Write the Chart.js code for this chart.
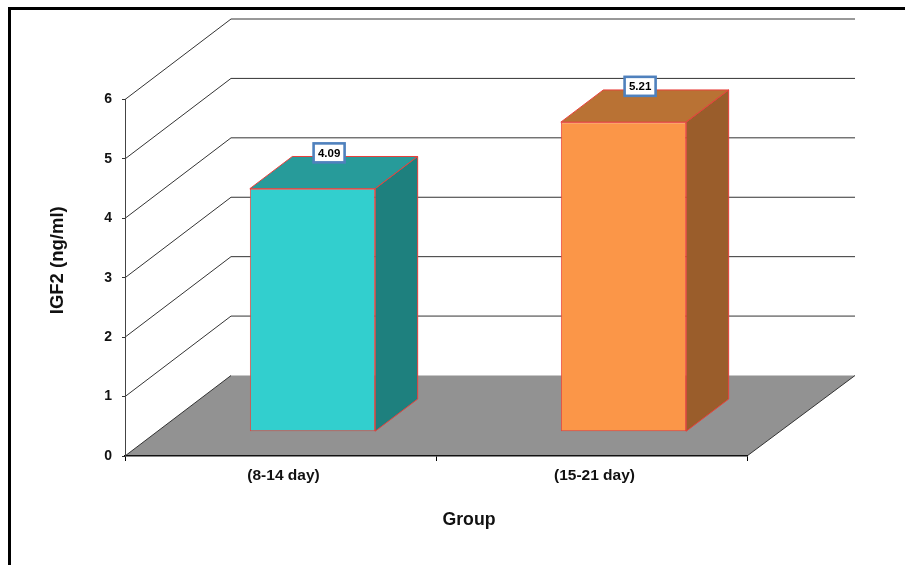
<!DOCTYPE html>
<html>
<head>
<meta charset="utf-8">
<style>html,body{margin:0;padding:0;background:#fff}canvas{display:block}</style>
<script src="https://cdn.jsdelivr.net/npm/chart.js@4"></script>
</head>
<body>
<canvas id="c" width="905" height="565"></canvas>
<script>
const categories = ['(8-14 day)', '(15-21 day)'];
const igf2Values = [4.09, 5.21];
const frontColors = ['#32CFCE', '#FB9648'];
const topColors = ['#279B9A', '#B97234'];
const sideColors = ['#1E807E', '#9A5D2B'];
const xAxisTitle = 'Group';
const yAxisTitle = 'IGF2 (ng/ml)';

const FONT = '"Liberation Sans", Arial, sans-serif';
const WALL = {dx: 106, dy: -80.5};
const BAR_SHIFT = {dx: 32, dy: -24.3};
const BAR_DEPTH = {dx: 42.5, dy: -32.2};
const EDGE = '#E8403C';

function poly(ctx, pts, fill, stroke) {
  ctx.beginPath();
  pts.forEach((p, i) => i ? ctx.lineTo(p[0], p[1]) : ctx.moveTo(p[0], p[1]));
  ctx.closePath();
  if (fill) { ctx.fillStyle = fill; ctx.fill(); }
  if (stroke) { ctx.strokeStyle = stroke; ctx.lineWidth = 1; ctx.stroke(); }
}

const stage3d = {
  id: 'stage3d',
  beforeDraw(chart) {
    const {ctx, chartArea: a, scales} = chart;
    const y0 = scales.y.getPixelForValue(0);
    ctx.save();
    // outer frame
    ctx.fillStyle = '#000';
    ctx.fillRect(8, 7, 897, 3);
    ctx.fillRect(8, 7, 3, 558);
    // grid lines on the two walls
    ctx.strokeStyle = '#333';
    ctx.lineWidth = 1;
    scales.y.ticks.forEach(t => {
      if (t.value === 0) return;
      const p = scales.y.getPixelForValue(t.value);
      ctx.beginPath();
      ctx.moveTo(a.left, p);
      ctx.lineTo(a.left + WALL.dx, p + WALL.dy);
      ctx.lineTo(a.right + WALL.dx + 2, p + WALL.dy);
      ctx.stroke();
    });
    // floor
    poly(ctx, [[a.left, y0], [a.left + WALL.dx, y0 + WALL.dy], [a.right + WALL.dx + 2, y0 + WALL.dy], [a.right, y0]], '#929292');
    ctx.strokeStyle = '#333';
    ctx.beginPath();
    ctx.moveTo(a.left, y0); ctx.lineTo(a.left + WALL.dx, y0 + WALL.dy);
    ctx.moveTo(a.right, y0); ctx.lineTo(a.right + WALL.dx + 2, y0 + WALL.dy);
    ctx.stroke();
    ctx.restore();
    // shift axis titles along their axes
    const wrap = (s, tx, ty) => {
      if (s._shifted) return;
      s._shifted = true;
      const orig = s.drawTitle;
      s.drawTitle = function () { ctx.save(); ctx.translate(tx, ty); orig.call(this); ctx.restore(); };
    };
    wrap(scales.x, 33, 0);
    wrap(scales.y, 0, -17.5);
  },
  beforeDatasetsDraw(chart) {
    const {ctx} = chart;
    ctx.save();
    ctx.translate(BAR_SHIFT.dx, BAR_SHIFT.dy);
    chart.getDatasetMeta(0).data.forEach((b, i) => {
      const l = b.x - b.width / 2, r = b.x + b.width / 2, t = b.y, bt = b.base;
      const d = BAR_DEPTH;
      poly(ctx, [[l, t], [l + d.dx, t + d.dy], [r + d.dx, t + d.dy], [r, t]], topColors[i], EDGE);
      poly(ctx, [[r, t], [r + d.dx, t + d.dy], [r + d.dx, bt + d.dy], [r, bt]], sideColors[i], EDGE);
    });
  },
  afterDatasetsDraw(chart) {
    const {ctx} = chart;
    ctx.restore();
    ctx.save();
    chart.getDatasetMeta(0).data.forEach((b, i) => {
      const cx = b.x + BAR_SHIFT.dx + 16.6, cy = b.y + BAR_SHIFT.dy - 35.8;
      const w = 31, h = 19;
      ctx.fillStyle = '#fff';
      ctx.strokeStyle = '#4F81BD';
      ctx.lineWidth = 2.6;
      ctx.fillRect(cx - w / 2, cy - h / 2, w, h);
      ctx.strokeRect(cx - w / 2, cy - h / 2, w, h);
      ctx.fillStyle = '#000';
      ctx.font = 'bold 11.5px ' + FONT;
      ctx.textAlign = 'center';
      ctx.textBaseline = 'middle';
      ctx.fillText(igf2Values[i].toFixed(2), cx, cy + 0.5);
    });
    ctx.restore();
  }
};

new Chart(document.getElementById('c'), {
  type: 'bar',
  data: {
    labels: categories,
    datasets: [{
      label: 'IGF2 (ng/ml)',
      data: igf2Values,
      backgroundColor: frontColors,
      borderColor: EDGE,
      borderWidth: 1,
      borderSkipped: false,
      barPercentage: 0.403,
      categoryPercentage: 1,
      clip: false
    }]
  },
  plugins: [stage3d],
  options: {
    responsive: false,
    animation: false,
    layout: {padding: {top: 99.5, right: 158, left: 0, bottom: 0}},
    plugins: {legend: {display: false}, tooltip: {enabled: false}},
    scales: {
      x: {
        afterFit(s) { s.height = 109; },
        grid: {drawOnChartArea: false, color: '#000', tickLength: 5, tickColor: '#000'},
        border: {color: '#111', width: 1.5},
        ticks: {color: '#111', font: {family: FONT, size: 15.5, weight: 'bold'}, padding: 5, maxRotation: 0, labelOffset: 3},
        title: {display: true, text: xAxisTitle, color: '#111', font: {family: FONT, size: 17.7, weight: 'bold'}, padding: {top: 0, bottom: 34}}
      },
      y: {
        min: 0, max: 6,
        afterFit(s) { s.width = 125; },
        grid: {drawOnChartArea: false, color: '#333', tickLength: 3, tickColor: '#333'},
        border: {color: '#444', width: 1},
        ticks: {stepSize: 1, color: '#111', font: {family: FONT, size: 14, weight: 'bold'}, padding: 10},
        title: {display: true, text: yAxisTitle, color: '#111', font: {family: FONT, size: 18.5, weight: 'bold'}, padding: {top: 47, bottom: 0}}
      }
    }
  }
});
</script>
</body>
</html>
